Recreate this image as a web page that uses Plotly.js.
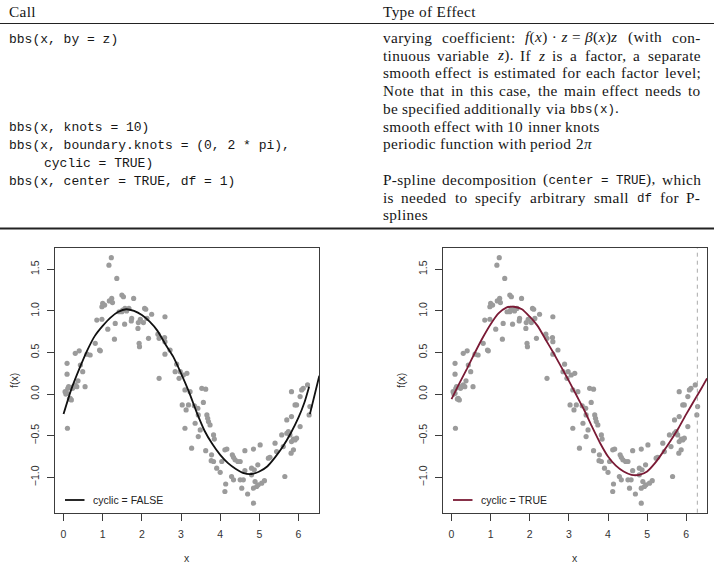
<!DOCTYPE html>
<html>
<head>
<meta charset="utf-8">
<script src="https://cdn.plot.ly/plotly-3.0.1.min.js"></script>
<style>
  html, body { margin: 0; padding: 0; background: #fff; }
  #fig { width: 714px; height: 571px; }
</style>
</head>
<body>
<div id="fig"></div>
<script>
// ---------- table content ----------
const headerCall = "Call";
const headerEffect = "Type of Effect";

// [row index, code text, indent]
const callRows = [
  [0, "bbs(x, by = z)", 0],
  [5, "bbs(x, knots = 10)", 0],
  [6, "bbs(x, boundary.knots = (0, 2 * pi),", 0],
  [7, "cyclic = TRUE)", 1],
  [8, "bbs(x, center = TRUE, df = 1)", 0]
];

// [row index, justified?, words]  (<i> italic, <m> typewriter)
const effectRows = [
  [0, true,  ["varying", "coefficient:", "<i>f</i>(<i>x</i>) · <i>z</i> = <i>β</i>(<i>x</i>)<i>z</i>", "(with", "con-"]],
  [1, true,  ["tinuous", "variable", "<i>z</i>).", "If", "<i>z</i>", "is", "a", "factor,", "a", "separate"]],
  [2, true,  ["smooth", "effect", "is", "estimated", "for", "each", "factor", "level;"]],
  [3, true,  ["Note", "that", "in", "this", "case,", "the", "main", "effect", "needs", "to"]],
  [4, false, ["be", "specified", "additionally", "via", "<m>bbs(x)</m>."]],
  [5, false, ["smooth", "effect", "with", "10", "inner", "knots"]],
  [6, false, ["periodic", "function", "with", "period", "2<i>π</i>"]],
  [8, true,  ["P-spline", "decomposition", "(<m>center = TRUE</m>),", "which"]],
  [9, true,  ["is", "needed", "to", "specify", "arbitrary", "small", "<m>df</m>", "for", "P-"]],
  [10, false, ["splines"]]
];

// ---------- data ----------
const obsX = [
  0.04, 0.09, 0.11, 0.13, 0.17, 0.20, 0.15, 0.23, 0.25, 0.30, 0.34, 0.37, 0.55, 0.10, 0.06,
  0.09, 0.09, 0.30, 0.40, 0.43, 0.49, 0.60, 0.68, 0.81, 0.94, 0.92, 0.85, 0.98, 0.98, 1.00,
  1.05, 1.17, 1.23, 1.25, 1.13, 1.30, 1.16, 1.22, 1.36, 1.32, 1.49, 1.53, 1.42, 1.49, 1.57,
  1.67, 1.56, 1.74, 1.73, 1.79, 1.90, 1.91, 1.96, 1.93, 1.94, 2.07, 2.10, 2.04, 2.13, 2.17,
  2.25, 2.41, 2.44, 2.58, 2.59, 2.59, 2.59, 2.72, 2.44, 2.89, 2.85, 2.98, 3.06, 3.15, 2.95,
  3.03, 3.13, 1.61, 1.51,
  3.10, 3.23, 3.53, 3.63, 3.19, 3.34, 3.43, 3.57, 3.44, 3.66, 3.68, 3.70, 3.74, 3.49, 3.10,
  3.36, 3.44, 3.83, 3.85, 3.27, 3.63, 3.78, 3.77, 3.83, 3.91, 4.00, 4.04, 4.12, 4.17, 4.31,
  4.34, 4.38, 4.45, 4.51, 4.63, 4.85, 5.02, 4.80, 4.87, 4.96, 4.63, 4.29, 4.34, 4.14, 4.12,
  4.51, 4.59, 4.55, 4.70, 4.85, 4.93, 4.97, 5.06, 5.13, 4.89, 4.80, 4.85, 5.23, 5.27, 5.40,
  5.44, 5.65, 5.57, 5.61, 5.70, 5.74, 5.78, 5.82, 5.87, 5.87, 5.91, 5.81, 5.95, 6.04, 5.70,
  5.82, 5.91, 5.95, 5.82, 6.04, 6.08, 6.12, 6.23, 6.27, 6.29
];
const obsY = [
  0.03, 0.01, 0.07, 0.09, -0.05, -0.07, -0.06, 0.07, 0.09, 0.11, 0.09, 0.16, 0.09, -0.41, 0.00,
  0.37, 0.24, 0.49, 0.52, 0.35, 0.27, 0.48, 0.47, 0.61, 0.52, 0.53, 0.89, 0.90, 1.05, 1.09,
  1.07, 1.12, 1.15, 1.10, 0.78, 0.66, 1.55, 1.64, 1.39, 0.85, 1.19, 1.17, 0.99, 0.99, 1.03,
  1.03, 0.84, 0.91, 0.88, 1.15, 0.79, 0.86, 0.90, 0.61, 0.57, 1.03, 1.02, 0.86, 0.91, 0.67,
  0.96, 0.72, 0.67, 0.68, 0.93, 0.63, 0.48, 0.53, 0.19, 0.36, 0.27, 0.27, 0.23, 0.25, 0.19,
  -0.13, -0.19, 1.00, 1.01,
  0.05, 0.03, 0.07, 0.06, -0.13, -0.14, -0.17, -0.10, -0.25, -0.25, -0.29, -0.33, -0.37, -0.43, -0.41,
  -0.35, -0.51, -0.49, -0.54, -0.65, -0.68, -0.73, -0.80, -0.81, -0.89, -0.94, -0.81, -0.67, -0.66, -0.73,
  -0.76, -0.79, -0.81, -0.81, -0.68, -0.66, -0.61, -0.89, -0.91, -0.85, -0.92, -0.99, -1.03, -1.08, -1.17,
  -1.03, -1.03, -1.13, -1.20, -1.13, -1.11, -1.09, -1.07, -1.04, -1.05, -0.97, -1.31, -0.77, -0.76, -0.59,
  -0.69, -0.99, -0.49, -0.63, -0.47, -0.45, -0.49, -0.57, -0.54, -0.67, -0.55, -0.71, -0.53, -0.39, -0.31,
  -0.27, -0.13, -0.13, 0.03, -0.03, 0.05, 0.07, 0.11, -0.25, -0.15
];

// fitted curve, cyclic = FALSE (with the start of the next period past 2*pi)
const fitFalseX = [0, 0.2, 0.4, 0.6, 0.8, 1.0, 1.2, 1.4, 1.6, 1.8, 2.0, 2.2, 2.4, 2.6, 2.8, 3.0, 3.2, 3.4,
  3.6, 3.8, 4.0, 4.2, 4.4, 4.6, 4.8, 5.0, 5.2, 5.4, 5.6, 5.8, 6.0, 6.15, 6.27, null, 6.29, 6.41, 6.53];
const fitFalseY = [-0.24, 0.06, 0.30, 0.52, 0.70, 0.82, 0.92, 0.99, 1.02, 1.00, 0.95, 0.87, 0.76, 0.60, 0.45,
  0.25, 0.03, -0.22, -0.44, -0.60, -0.73, -0.83, -0.90, -0.95, -0.96, -0.93, -0.87, -0.76, -0.63, -0.47,
  -0.28, -0.10, 0.09, null, -0.24, -0.01, 0.22];

// fitted curve, cyclic = TRUE
const fitTrueX = [0, 0.2, 0.4, 0.6, 0.8, 1.0, 1.2, 1.4, 1.5, 1.6, 1.8, 2.0, 2.2, 2.4, 2.6, 2.8, 3.0, 3.2,
  3.4, 3.6, 3.8, 4.0, 4.2, 4.4, 4.6, 4.8, 5.0, 5.2, 5.4, 5.6, 5.8, 6.0, 6.2, 6.4, 6.53];
const fitTrueY = [-0.06, 0.13, 0.31, 0.50, 0.68, 0.84, 0.97, 1.04, 1.05, 1.05, 1.02, 0.93, 0.82, 0.66, 0.50,
  0.33, 0.16, -0.02, -0.20, -0.40, -0.59, -0.75, -0.86, -0.93, -0.97, -0.97, -0.93, -0.83, -0.70, -0.56,
  -0.41, -0.24, -0.08, 0.08, 0.19];

const legendFalse = "cyclic = FALSE";
const legendTrue = "cyclic = TRUE";
const boundaryKnot = 2 * Math.PI;

const yTickVals = [-1, -0.5, 0, 0.5, 1, 1.5];
const yTickText = ["\u22121.0", "\u22120.5", "0.0", "0.5", "1.0", "1.5"];
const xTickVals = [0, 1, 2, 3, 4, 5, 6];

// ---------- geometry helpers ----------
const W = 714, H = 571;
const px = v => v / W;
const py = v => 1 - v / H;

const SERIF = "Liberation Serif";
const MONO = "Liberation Mono";
const SANS = "Liberation Sans, Arial, sans-serif";
const FS = 15.3, MFS = 13, IMFS = 12.5, LS = 0.35;   // serif size, code sizes, serif letter spacing
const INK = "#161616";
const ROW0 = 37.3, ROWSTEP = 17.75;
const COL_L = 382.5, COL_R = 700.7, CALL_L = 9, INDENT = 35;
const MONO_DROP = -1.8;   // keeps typewriter baselines level with the serif text

const ctx = document.createElement("canvas").getContext("2d");
function pieces(tok) {
  const out = [];
  const re = /<(i|m)>(.*?)<\/\1>|([^<]+)/g;
  let m;
  while ((m = re.exec(tok))) {
    if (m[1]) out.push({ s: m[1], t: m[2] });
    else out.push({ s: "r", t: m[3] });
  }
  return out;
}
function fontOf(s) {
  if (s === "i") return `italic ${FS}px "${SERIF}"`;
  if (s === "m") return `${IMFS}px "${MONO}"`;
  return `${FS}px "${SERIF}"`;
}
function widthOf(tok) {
  return pieces(tok).reduce((w, p) => {
    ctx.font = fontOf(p.s);
    const extra = p.s === "m" ? 0 : LS * [...p.t].length;
    return w + ctx.measureText(p.t).width + extra;
  }, 0);
}
function spaced(t) { return `<span style="letter-spacing:${LS}px">${t}</span>`; }
function toHtml(tok) {
  return pieces(tok).map(p => p.s === "i" ? `<i>${spaced(p.t)}</i>`
    : p.s === "m" ? `<span style="font-family:${MONO};font-size:${IMFS}px">${p.t}</span>`
    : spaced(p.t)).join("");
}

const annotations = [];
const shapes = [];
const textBase = { xref: "paper", yref: "paper", showarrow: false, xanchor: "left", yanchor: "middle",
  borderpad: 0, borderwidth: 0 };
const serifFont = { family: SERIF, size: FS, color: INK };

// header
annotations.push({ ...textBase, x: px(CALL_L), y: py(11.5), text: spaced(headerCall), font: serifFont });
annotations.push({ ...textBase, x: px(COL_L), y: py(11.5), text: spaced(headerEffect), font: serifFont });

// code column
callRows.forEach(([r, t, ind]) => {
  annotations.push({ ...textBase, x: px(CALL_L + ind * INDENT), y: py(ROW0 + r * ROWSTEP), yshift: MONO_DROP,
    text: t, font: { family: MONO, size: MFS, color: INK } });
});

// description column, justified where the paragraph continues
ctx.font = fontOf("r");
const spaceW = ctx.measureText(" ").width + LS;
effectRows.forEach(([r, just, words]) => {
  const ws = words.map(widthOf);
  const total = ws.reduce((a, b) => a + b, 0);
  const gap = just && words.length > 1 ? Math.max(2.5, (COL_R - COL_L - total) / (words.length - 1)) : spaceW;
  let x = COL_L;
  words.forEach((w, i) => {
    const pureMono = pieces(w).every(p => p.s === "m");
    annotations.push({ ...textBase, x: px(x), y: py(ROW0 + r * ROWSTEP), yshift: pureMono ? MONO_DROP : 0,
      text: toHtml(w), font: serifFont });
    x += ws[i] + gap;
  });
});

// table rules
shapes.push({ type: "line", xref: "paper", yref: "paper", x0: 0, x1: 1, y0: py(23.5), y1: py(23.5), line: { color: "#222", width: 1 } });
shapes.push({ type: "line", xref: "paper", yref: "paper", x0: 0, x1: 1, y0: py(228.5), y1: py(228.5), line: { color: "#222", width: 1.8 } });

// ---------- plot panels ----------
const boxTop = 248, boxBot = 512.7;
const leftBox = [55.3, 319.3], rightBox = [443.3, 707];
const xRange = [-0.21, 6.53], yRange = [-1.425, 1.756];
const axisInk = "#3c3c3c";

const xBase = {
  range: xRange, tickvals: xTickVals, ticks: "outside", ticklen: 7, tickwidth: 1, tickcolor: axisInk,
  showline: true, mirror: true, linecolor: axisInk, linewidth: 1, showgrid: false, zeroline: false,
  tickfont: { family: SANS, size: 10.5, color: "#333" }, ticklabelstandoff: 5, fixedrange: true
};
const yBase = {
  range: yRange, tickvals: yTickVals, ticktext: yTickText, tickangle: -90, ticks: "outside", ticklen: 7,
  tickwidth: 1, tickcolor: axisInk, showline: true, mirror: true, linecolor: axisInk, linewidth: 1,
  showgrid: false, zeroline: false, tickfont: { family: SANS, size: 10.5, color: "#333" },
  ticklabelstandoff: 4, domain: [py(boxBot), py(boxTop)], fixedrange: true
};

const pointStyle = { color: "#9b9b9b", size: 5.2 };
const traces = [
  { x: obsX, y: obsY, xaxis: "x", yaxis: "y", type: "scatter", mode: "markers", marker: pointStyle, hoverinfo: "skip" },
  { x: fitFalseX, y: fitFalseY, xaxis: "x", yaxis: "y", type: "scatter", mode: "lines",
    line: { color: "#111", width: 1.8, shape: "spline", smoothing: 0.6 }, connectgaps: false, hoverinfo: "skip" },
  { x: obsX, y: obsY, xaxis: "x2", yaxis: "y2", type: "scatter", mode: "markers", marker: pointStyle, hoverinfo: "skip" },
  { x: fitTrueX, y: fitTrueY, xaxis: "x2", yaxis: "y2", type: "scatter", mode: "lines",
    line: { color: "#7a1a35", width: 1.8, shape: "spline", smoothing: 0.6 }, hoverinfo: "skip" }
];

// boundary knot marker on the cyclic panel
shapes.push({ type: "line", xref: "x2", yref: "y2 domain", x0: boundaryKnot, x1: boundaryKnot, y0: 0, y1: 1,
  line: { color: "#aaaaaa", width: 1, dash: "4px,4px" } });

// axis titles
const titleFont = { family: SANS, size: 10.5, color: "#333" };
[leftBox, rightBox].forEach(b => {
  annotations.push({ ...textBase, xanchor: "center", x: px((b[0] + b[1]) / 2), y: py(558), text: "x", font: titleFont });
});
[13.5, 400.5].forEach(xp => {
  annotations.push({ ...textBase, xanchor: "center", x: px(xp), y: py(380.5), text: "f(x)", textangle: -90, font: titleFont });
});

// in-panel legends
[[leftBox, legendFalse, "#111"], [rightBox, legendTrue, "#7a1a35"]].forEach(([b, label, col]) => {
  const x0 = b[0] + 9.7;
  shapes.push({ type: "line", xref: "paper", yref: "paper", x0: px(x0), x1: px(x0 + 19.5), y0: py(500), y1: py(500),
    line: { color: col, width: 1.8 } });
  annotations.push({ ...textBase, x: px(x0 + 28), y: py(500), text: label, font: { family: SANS, size: 10.5, color: "#222" } });
});

const layout = {
  width: W, height: H, autosize: false,
  margin: { l: 0, r: 0, t: 0, b: 0, pad: 0 },
  paper_bgcolor: "#fff", plot_bgcolor: "#fff",
  showlegend: false,
  xaxis: { ...xBase, domain: [px(leftBox[0]), px(leftBox[1])], anchor: "y" },
  yaxis: { ...yBase, anchor: "x" },
  xaxis2: { ...xBase, domain: [px(rightBox[0]), px(rightBox[1])], anchor: "y2" },
  yaxis2: { ...yBase, anchor: "x2" },
  annotations: annotations,
  shapes: shapes
};

Plotly.newPlot("fig", traces, layout, { displayModeBar: false, staticPlot: true });
</script>
</body>
</html>
